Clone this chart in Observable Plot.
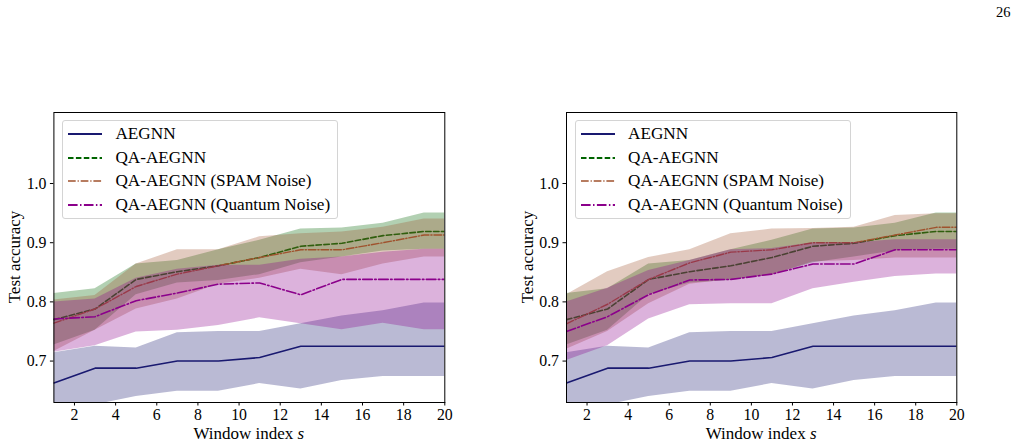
<!DOCTYPE html>
<html><head><meta charset="utf-8">
<script src="https://cdn.jsdelivr.net/npm/d3@7"></script>
<script src="https://cdn.jsdelivr.net/npm/@observablehq/plot@0.6"></script>
<style>
html,body{margin:0;padding:0;background:#fff}
body{width:1019px;height:447px;position:relative;overflow:hidden;font-family:"Liberation Serif",serif;color:#000}
.panel{position:absolute;top:100px;width:500px;height:342px}
.ylab{position:absolute;transform:translate(-50%,-50%) rotate(-90deg);white-space:nowrap;font-size:17px;line-height:1}
.xlab{position:absolute;transform:translateX(-50%);white-space:nowrap;font-size:17px;line-height:1}
.legend{position:absolute;top:20px;width:274px;height:97px;border:1px solid #d4d4d4;border-radius:3px;background:rgba(255,255,255,0.8);box-sizing:content-box}
.row{position:absolute;left:0;height:20px;display:flex;align-items:center;font-size:17.2px;white-space:nowrap}
.row svg{margin-left:5px;margin-right:13px}
.pagenum{position:absolute;left:996px;top:4px;font-size:14.5px}
</style>
</head><body>
<div class="pagenum">26</div>
<script>
// ---------- data ----------
const S = [1,3,5,7,9,11,13,15,17,19,20];
const xTicks = [2,4,6,8,10,12,14,16,18,20];
const yTicks = [0.7,0.8,0.9,1.0];

// AEGNN (same in both panels)
const aegnnMean = [0.663,0.688,0.688,0.700,0.700,0.706,0.725,0.725,0.725,0.725,0.725];
const aegnnHi   = [0.714,0.725,0.722,0.748,0.750,0.750,0.763,0.776,0.785,0.798,0.798];
const aegnnLo   = [0.610,0.626,0.640,0.649,0.649,0.662,0.653,0.667,0.674,0.674,0.674];

// QA-AEGNN (same in both panels)
const qaMean = [0.770,0.788,0.838,0.851,0.861,0.875,0.894,0.899,0.912,0.919,0.919];
const qaHi   = [0.814,0.822,0.864,0.870,0.888,0.904,0.923,0.925,0.933,0.950,0.950];
const qaLo   = [0.727,0.752,0.812,0.832,0.836,0.846,0.866,0.876,0.886,0.889,0.889];

// Left panel: SPAM noise
const spamMeanL = [0.764,0.788,0.826,0.847,0.861,0.875,0.888,0.888,0.900,0.913,0.913];
const spamHiL   = [0.803,0.811,0.864,0.888,0.888,0.910,0.915,0.918,0.926,0.940,0.940];
const spamLoL   = [0.716,0.752,0.788,0.805,0.830,0.840,0.855,0.846,0.864,0.876,0.876];
// Left panel: quantum noise
const qnMeanL = [0.771,0.775,0.802,0.815,0.830,0.832,0.812,0.838,0.838,0.838,0.838];
const qnHiL   = [0.800,0.805,0.840,0.855,0.862,0.862,0.872,0.876,0.884,0.889,0.889];
const qnLoL   = [0.715,0.726,0.749,0.752,0.760,0.773,0.763,0.753,0.764,0.753,0.753];

// Right panel: SPAM noise
const spamMeanR = [0.763,0.796,0.838,0.866,0.884,0.888,0.900,0.900,0.913,0.926,0.926];
const spamHiR   = [0.812,0.851,0.875,0.888,0.915,0.923,0.924,0.926,0.946,0.949,0.949];
const spamLoR   = [0.720,0.750,0.797,0.830,0.838,0.845,0.868,0.870,0.874,0.874,0.874];
// Right panel: quantum noise
const qnMeanR = [0.750,0.775,0.812,0.837,0.838,0.847,0.864,0.864,0.888,0.888,0.888];
const qnHiR   = [0.800,0.823,0.853,0.870,0.888,0.890,0.900,0.900,0.905,0.905,0.905];
const qnLoR   = [0.701,0.726,0.771,0.795,0.797,0.797,0.822,0.833,0.843,0.847,0.847];

const seriesNames  = ["AEGNN","QA-AEGNN","QA-AEGNN (SPAM Noise)","QA-AEGNN (Quantum Noise)"];
const seriesColors = ["#191970","#006400","#a0522d","#8b008b"];
const seriesDash   = [null,"5.5,2.4","7.7,1.9,1.2,1.9","9.6,2.4,1.5,2.4"];
const seriesWidth  = [1.6,1.6,1.4,1.6];

// ---------- build ----------
function table(mean, lo, hi){ return S.map((s,i)=>({s, mean:mean[i], lo:lo[i], hi:hi[i]})); }

function makePanel(left, ml, mr, data){
  const marks = [];
  data.forEach((d,k)=>{
    marks.push(Plot.lineY(d, {x:"s", y:"mean", stroke:seriesColors[k], strokeWidth:seriesWidth[k],
      strokeDasharray:seriesDash[k]||undefined, clip:true}));
    marks.push(Plot.areaY(d, {x:"s", y1:"lo", y2:"hi", fill:seriesColors[k], fillOpacity:0.3, clip:true}));
  });
  marks.push(Plot.frame({stroke:"#000", strokeWidth:1}));
  const chart = Plot.plot({
    width:500, height:342, marginLeft:ml, marginRight:mr, marginTop:12, marginBottom:40,
    x:{domain:[1,20], ticks:xTicks, tickFormat:"d", tickSize:3.5, tickPadding:3, label:null},
    y:{domain:[0.63,1.12], ticks:yTicks, tickFormat:".1f", tickSize:3.5, tickPadding:4, label:null},
    style:{fontFamily:"Liberation Serif", fontSize:"15.8px", background:"transparent", color:"#000", overflow:"visible"},
    marks
  });
  const div = document.createElement("div");
  div.className = "panel";
  div.style.left = left + "px";
  div.appendChild(chart);

  const cx = ml + (500-ml-mr)/2;
  const yl = document.createElement("div");
  yl.className = "ylab"; yl.textContent = "Test accuracy";
  yl.style.left = (ml-39.5) + "px"; yl.style.top = "157px";
  div.appendChild(yl);

  const xl = document.createElement("div");
  xl.className = "xlab"; xl.innerHTML = "Window index <i>s</i>";
  xl.style.left = cx + "px"; xl.style.top = "325px";
  div.appendChild(xl);

  const lg = document.createElement("div");
  lg.className = "legend";
  lg.style.left = (ml+9) + "px";
  seriesNames.forEach((name,k)=>{
    const row = document.createElement("div");
    row.className = "row";
    row.style.top = (2.7 + k*23.8) + "px";
    const dash = seriesDash[k] ? `stroke-dasharray="${seriesDash[k]}"` : "";
    row.innerHTML = `<svg width="34" height="12"><line x1="0" y1="6" x2="34" y2="6" stroke="${seriesColors[k]}" stroke-width="${seriesWidth[k]+0.3}" ${dash}/></svg><span>${name}</span>`;
    lg.appendChild(row);
  });
  div.appendChild(lg);
  document.body.appendChild(div);
}

const leftData = [table(aegnnMean,aegnnLo,aegnnHi), table(qaMean,qaLo,qaHi), table(spamMeanL,spamLoL,spamHiL), table(qnMeanL,qnLoL,qnHiL)];
const rightData = [table(aegnnMean,aegnnLo,aegnnHi), table(qaMean,qaLo,qaHi), table(spamMeanR,spamLoR,spamHiR), table(qnMeanR,qnLoR,qnHiR)];

makePanel(0, 53.4, 55.7, leftData);
makePanel(510, 56, 53.7, rightData);
</script>
</body></html>
